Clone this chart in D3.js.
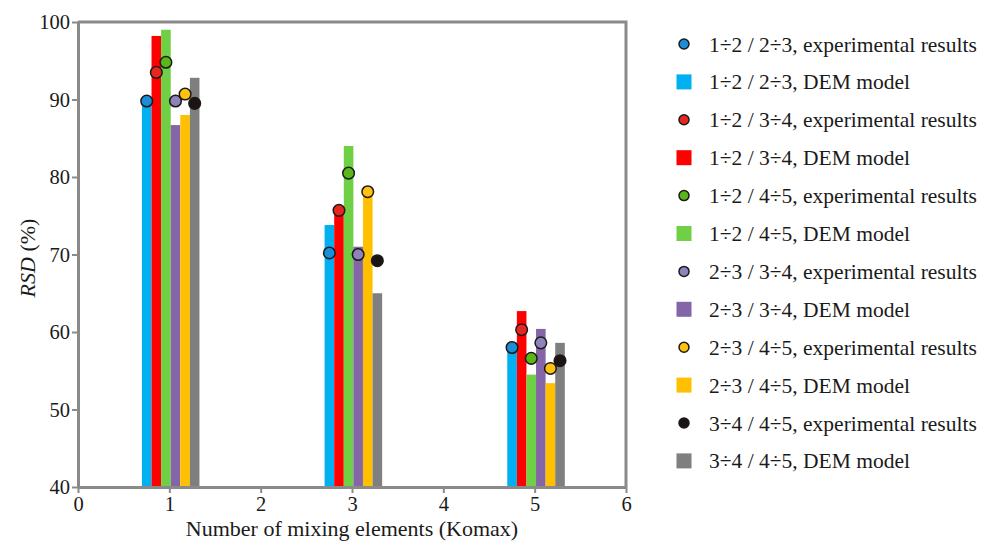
<!DOCTYPE html>
<html>
<head>
<meta charset="utf-8">
<script src="https://cdn.jsdelivr.net/npm/d3@7"></script>
<style>
  html, body { margin: 0; padding: 0; background: #fff; }
  svg text { font-family: "Liberation Serif", "Times New Roman", serif; fill: #1a1a1a; }
</style>
</head>
<body>
<svg id="chart" width="989" height="547"></svg>
<script>
// mixing element counts on the x axis
const groups = [1, 3, 5];
const pairs = ['1÷2 / 2÷3', '1÷2 / 3÷4', '1÷2 / 4÷5', '2÷3 / 3÷4', '2÷3 / 4÷5', '3÷4 / 4÷5'];

// DEM model (bars), one value per group
const dem12_23 = [89.9, 73.8, 58.2];
const dem12_34 = [98.2, 75.5, 62.7];
const dem12_45 = [99.0, 84.0, 54.5];
const dem23_34 = [86.7, 71.0, 60.4];
const dem23_45 = [88.0, 78.0, 53.4];
const dem34_45 = [92.8, 65.0, 58.6];

// experimental results (circles)
const exp12_23 = [89.8, 70.2, 58.0];
const exp12_34 = [93.5, 75.7, 60.3];
const exp12_45 = [94.8, 80.5, 56.6];
const exp23_34 = [89.8, 70.0, 58.6];
const exp23_45 = [90.7, 78.1, 55.3];
const exp34_45 = [89.5, 69.2, 56.3];

const xTicks = [0, 1, 2, 3, 4, 5, 6];
const yTicks = [40, 50, 60, 70, 80, 90, 100];

const barColors = ['#00b0f0', '#ff0000', '#6fcf45', '#8466a8', '#ffc000', '#7f7f7f'];
const dotColors = ['#1a8fd8', '#e8261f', '#5bb618', '#8f83ba', '#ffc20e', '#1c1412'];

const demAll = [dem12_23, dem12_34, dem12_45, dem23_34, dem23_45, dem34_45];
const expAll = [exp12_23, exp12_34, exp12_45, exp23_34, exp23_45, exp34_45];

const M = { left: 78, top: 22, right: 626, bottom: 487 };
const svg = d3.select('#chart');

const x = d3.scaleLinear().domain([0, 6]).range([M.left, M.right]);
const y = d3.scaleLinear().domain([40, 100]).range([M.bottom, M.top]);

const BW = 0.105;      // bar width in x units
const OFF = -0.3;      // left edge of group relative to tick

// bars
const g = svg.append('g');
demAll.forEach((vals, s) => {
    g.selectAll(null)
        .data(vals.map((v, i) => ({ gx: groups[i], v })))
        .enter().append('rect')
        .attr('x', d => x(d.gx + OFF + s * BW))
        .attr('width', x(BW) - x(0))
        .attr('y', d => y(d.v))
        .attr('height', d => y(40) - y(d.v))
        .attr('fill', barColors[s]);
});

// frame (top + right)
const axisCol = '#8a8a8a';
svg.append('path')
    .attr('d', `M${M.left},${M.top}H${M.right}V${M.bottom}`)
    .attr('fill', 'none').attr('stroke', axisCol).attr('stroke-width', 3);

// axes
const xAxis = svg.append('g')
    .attr('transform', `translate(0,${M.bottom})`)
    .call(d3.axisBottom(x).tickValues(xTicks).tickFormat(d3.format('d'))
        .tickSize(6).tickPadding(3).tickSizeOuter(0));
const yAxis = svg.append('g')
    .attr('transform', `translate(${M.left},0)`)
    .call(d3.axisLeft(y).tickValues(yTicks).tickFormat(d3.format('d'))
        .tickSize(6).tickPadding(2).tickSizeOuter(0));

[xAxis, yAxis].forEach(a => {
    a.select('.domain').attr('stroke', axisCol).attr('stroke-width', 3);
    a.selectAll('.tick line').attr('stroke', axisCol).attr('stroke-width', 2);
    a.selectAll('.tick text').attr('font-size', 20.5).attr('fill', '#1a1a1a');
});
yAxis.selectAll('.tick text').attr('dy', '0.34em');

// experimental circles
expAll.forEach((vals, s) => {
    svg.append('g').selectAll('circle')
        .data(vals.map((v, i) => ({ gx: groups[i], v })))
        .enter().append('circle')
        .attr('cx', d => x(d.gx + OFF + (s + 0.5) * BW))
        .attr('cy', d => y(d.v))
        .attr('r', 5.8)
        .attr('fill', dotColors[s])
        .attr('stroke', '#1a1a1a')
        .attr('stroke-width', 1.5);
});

// axis titles
svg.append('text')
    .attr('x', x(3)).attr('y', 536)
    .attr('text-anchor', 'middle')
    .attr('font-size', 22)
    .text('Number of mixing elements (Komax)');

const yl = svg.append('text')
    .attr('transform', `translate(35,258) rotate(-90)`)
    .attr('text-anchor', 'middle')
    .attr('font-size', 22);
yl.append('tspan').attr('font-style', 'italic').text('RSD');
yl.append('tspan').text(' (%)');

// legend
const legendItems = [];
pairs.forEach((p, s) => {
    legendItems.push({ type: 'exp', label: `${p}, experimental results`, s });
    legendItems.push({ type: 'dem', label: `${p}, DEM model`, s });
});

const LX = 684, LY = 44, LDY = 37.9;
const lg = svg.append('g');
legendItems.forEach((d, i) => {
    const cy = LY + i * LDY;
    if (d.type === 'exp') {
        lg.append('circle')
            .attr('cx', LX).attr('cy', cy).attr('r', 5)
            .attr('fill', dotColors[d.s]).attr('stroke', '#1a1a1a').attr('stroke-width', 1.5);
    } else {
        lg.append('rect')
            .attr('x', LX - 7.5).attr('y', cy - 7.5)
            .attr('width', 15).attr('height', 15)
            .attr('fill', barColors[d.s]);
    }
    lg.append('text')
        .attr('x', 709).attr('y', cy)
        .attr('dy', '0.35em')
        .attr('font-size', 21.5)
        .text(d.label);
});
</script>
</body>
</html>
